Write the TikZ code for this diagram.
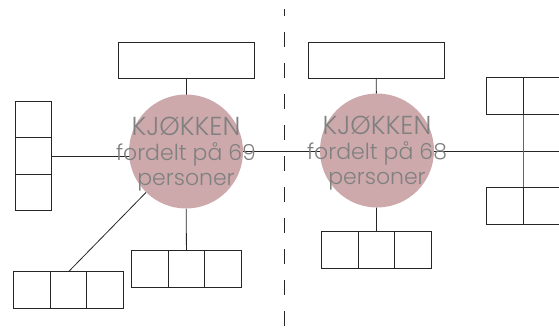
\documentclass[tikz,border=0pt]{standalone}
\usepackage{fontspec}
\newfontfamily\hubfont{Poppins}[UprightFont=* Light]
\usetikzlibrary{positioning,backgrounds}
\definecolor{rosa}{RGB}{205,169,172}
\definecolor{tekst}{RGB}{128,128,128}
\tikzset{
  cell/.style={draw=black!85, line width=0.8pt, minimum width=36.5pt, minimum height=36.5pt, inner sep=0pt, outer sep=0pt},
  bench/.style={draw=black!85, line width=0.8pt, minimum width=136pt, minimum height=36pt, inner sep=0pt, outer sep=0pt},
  hub/.style={circle, fill=rosa, minimum size=114pt, inner sep=0pt, outer sep=0pt,
    label={[hubtext]center:{{\fontsize{26}{25}\selectfont KJØKKEN}\\fordelt på #1\\personer}}},
  hubtext/.style={text=tekst, font=\hubfont\fontsize{22}{25}\selectfont, align=center, inner sep=0pt, yshift=-3pt},
  wire/.style={draw=black!85, line width=0.8pt}
}
\begin{document}
\begin{tikzpicture}[x=1pt,y=-1pt]
	  \useasboundingbox (0,0) rectangle (559,327);
	  % Left kitchen
	  \node[bench] (top1) at (186,60) {};
	  \node[hub=69] (hub1) at (186,151.5) {};
	  \node[cell] (lc1) at (33.5,119.5) {};
	  \node[cell, below=0pt of lc1] (lc2) {};
	  \node[cell, below=0pt of lc2] (lc3) {};
	  \node[cell] (bc1) at (150,269) {};
	  \node[cell, right=0pt of bc1] (bc2) {};
	  \node[cell, right=0pt of bc2] (bc3) {};
	  \node[cell] (bl1) at (32,290) {};
	  \node[cell, right=0pt of bl1] (bl2) {};
	  \node[cell, right=0pt of bl2] (bl3) {};
	  % Right kitchen
	  \node[bench] (top2) at (376,60) {};
	  \node[hub=68] (hub2) at (377,150.5) {};
	  \node[cell] (bd1) at (339.8,250) {};
	  \node[cell, right=0pt of bd1] (bd2) {};
	  \node[cell, right=0pt of bd2] (bd3) {};
	  \node[cell] (ra1) at (504.7,96) {};
	  \node[cell, minimum width=50pt, right=0pt of ra1] (rb1) {};
	  \node[cell] (ra2) at (504.7,206) {};
	  \node[cell, minimum width=50pt, right=0pt of ra2] (rb2) {};
	  \coordinate (rim) at (559,151.5);
	  \coordinate (divtop) at (284,9);
	  \coordinate (divbot) at (284,327);
	  % Connectors behind the circles
	  \begin{scope}[on background layer]
	    \draw[wire] (top1) -- (hub1);
	    \draw[wire] (hub1) -- (bc2);
	    \draw[wire] (lc2.east) -- (lc2.east -| hub1.center);
	    \draw[wire] (hub1) -- (bl2.north);
	    \draw[wire] (hub1.center) -- (rim);
	    \draw[wire] (top2) -- (hub2);
	    \draw[wire] (hub2) -- (bd2);
	    \draw[wire, draw=black!60] (ra1.south east) -- (ra2.north east);
	  \end{scope}
	  % Dashed divider
	  \draw[wire, dash pattern=on 15pt off 16pt, dash phase=8pt] (divtop) -- (divbot);
\end{tikzpicture}
\end{document}
